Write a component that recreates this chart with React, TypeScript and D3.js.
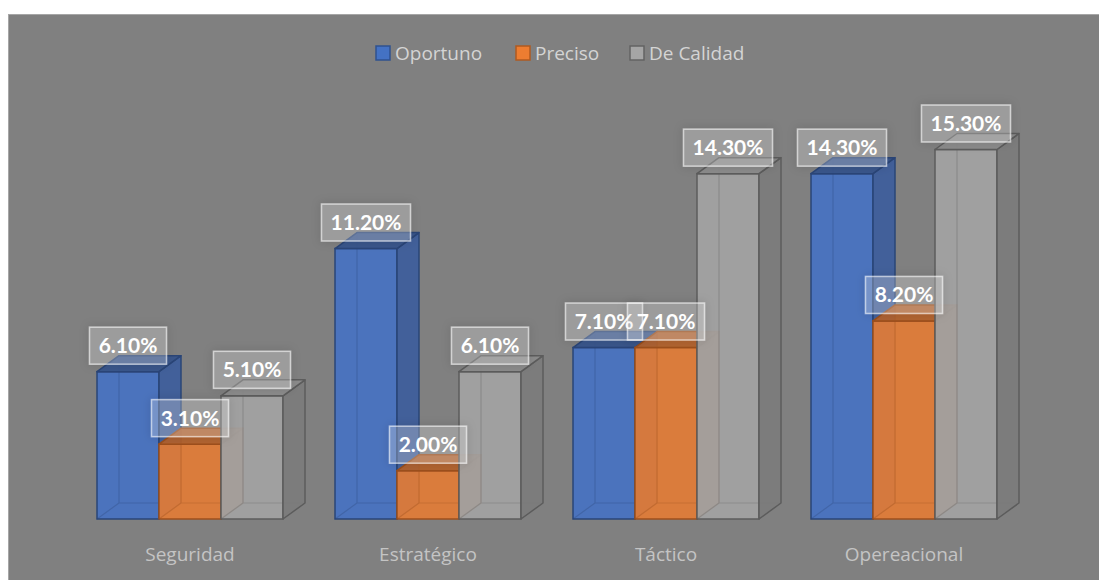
import * as d3 from "d3";

const categories = ["Seguridad", "Estratégico", "Táctico", "Opereacional"];
const seriesNames = ["Oportuno", "Preciso", "De Calidad"];
const oportuno = [6.1, 11.2, 7.1, 14.3];
const preciso = [3.1, 2.0, 7.1, 8.2];
const deCalidad = [5.1, 6.1, 14.3, 15.3];

const seriesValues = [oportuno, preciso, deCalidad];

const palette = [
  { front: "#4672c2", side: "#3b5c9c", top: "#34538c", edge: "#2a4577", legend: "#4472c4", legendEdge: "#2f528f" },
  { front: "#e27c36", side: "#b8642b", top: "#b5622a", edge: "#9c4f1c", legend: "#ed7d31", legendEdge: "#ae5a21" },
  { front: "#a3a3a3", side: "#7b7b7b", top: "#8c8c8c", edge: "#5c5c5c", legend: "#a5a5a5", legendEdge: "#636363" },
];

const W = 1099;
const H = 580;
const DX = 22;
const DY = -16;

export default function App() {
  const x0 = d3.scaleBand<string>().domain(categories).range([71, 1023]).padding(0);
  const x1 = d3
    .scaleBand<string>()
    .domain(seriesNames)
    .range([26, x0.bandwidth() - 26])
    .padding(0);
  const y = d3.scaleLinear().domain([0, 16]).range([519, 519 - 16 * 24.15]);
  const fmt = (v: number) => `${v.toFixed(2)}%`;

  const bars: JSX.Element[] = [];
  const labels: JSX.Element[] = [];

  categories.forEach((cat, ci) => {
    seriesNames.forEach((s, si) => {
      const v = seriesValues[si][ci];
      const c = palette[si];
      const x = (x0(cat) ?? 0) + (x1(s) ?? 0);
      const w = x1.bandwidth();
      const yt = y(v);
      const yb = y(0);
      const key = `${ci}-${si}`;
      bars.push(
        <g key={key}>
          <rect x={x} y={yt} width={w} height={yb - yt} fill={c.front} fillOpacity={0.92} stroke={c.edge} strokeWidth={1.5} />
          {/* back edges seen through the translucent front */}
          <path
            d={`M${x + DX},${yt + DY}V${yb + DY}H${x + w + DX}M${x},${yb}L${x + DX},${yb + DY}`}
            fill="none"
            stroke={c.edge}
            strokeOpacity={0.3}
            strokeWidth={1.2}
          />
          <polygon
            points={`${x + w},${yt} ${x + w + DX},${yt + DY} ${x + w + DX},${yb + DY} ${x + w},${yb}`}
            fill={c.side}
            fillOpacity={0.9}
            stroke={c.edge}
            strokeWidth={1.5}
            strokeLinejoin="round"
          />
          <polygon
            points={`${x},${yt} ${x + DX},${yt + DY} ${x + w + DX},${yt + DY} ${x + w},${yt}`}
            fill={c.top}
            fillOpacity={0.92}
            stroke={c.edge}
            strokeWidth={1.5}
            strokeLinejoin="round"
          />
        </g>
      );
      const txt = fmt(v);
      const bw = txt.length * 12 + 17;
      const bh = 37;
      const cx = x + w / 2;
      const cy = yt - 26;
      labels.push(
        <g key={key}>
          <rect
            x={cx - bw / 2}
            y={cy - bh / 2}
            width={bw}
            height={bh}
            fill="#ffffff"
            fillOpacity={0.22}
            stroke="#ffffff"
            strokeOpacity={0.6}
            strokeWidth={1.5}
            filter="url(#lblShadow)"
          />
          <text
            x={cx}
            y={cy + 7.5}
            textAnchor="middle"
            fill="#ffffff"
            fontFamily="Lato, 'Open Sans', sans-serif"
            fontWeight={700}
            fontSize={21}
          >
            {txt}
          </text>
        </g>
      );
    });
  });

  const legendItems = [
    { name: seriesNames[0], x: 375 },
    { name: seriesNames[1], x: 515 },
    { name: seriesNames[2], x: 629 },
  ];

  return (
    <svg
      width={W}
      height={H}
      style={{ position: "absolute", left: 0, top: 0, display: "block" }}
    >
      <defs>
        <filter id="lblShadow" x="-30%" y="-50%" width="160%" height="200%">
          <feDropShadow dx="0" dy="0" stdDeviation="5" floodColor="#000000" floodOpacity="0.35" />
        </filter>
      </defs>
      <rect x={8.5} y={14.5} width={W} height={H} fill="#808080" stroke="#a6a6a6" strokeWidth={1} />

      {legendItems.map((d, i) => (
        <g key={d.name}>
          <rect
            x={d.x + 1}
            y={46}
            width={14}
            height={14}
            fill={palette[i].legend}
            stroke={palette[i].legendEdge}
            strokeWidth={1.5}
          />
          <text
            x={d.x + 20}
            y={60}
            fill="#d4d4d4"
            fontFamily="'Open Sans', sans-serif"
            fontSize={19}
          >
            {d.name}
          </text>
        </g>
      ))}

      {bars}
      {labels}

      {categories.map((cat) => (
        <text
          key={cat}
          x={(x0(cat) ?? 0) + x0.bandwidth() / 2}
          y={561}
          textAnchor="middle"
          fill="#c4c4c4"
          fontFamily="'Open Sans', sans-serif"
          fontSize={19}
        >
          {cat}
        </text>
      ))}
    </svg>
  );
}
